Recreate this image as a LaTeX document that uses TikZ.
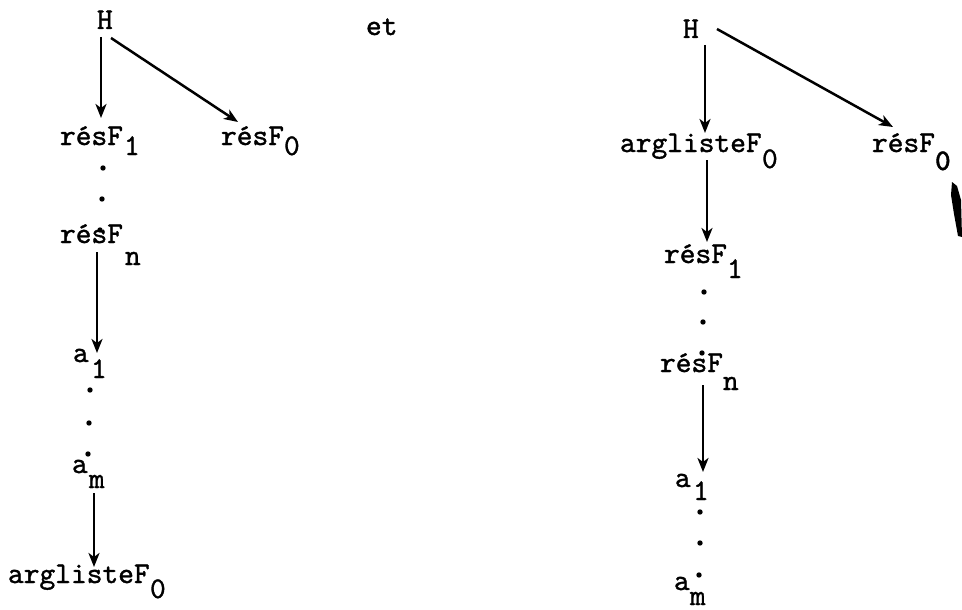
\documentclass[tikz,border=0pt]{standalone}
\usepackage{fontspec}
\newfontfamily\twfont[FakeBold=1.2]{lmmono10-regular.otf}
\newfontfamily\twbold[FakeBold=1.2]{lmmonolt10-bold.otf}
\usetikzlibrary{arrows.meta}
\begin{document}
\begin{tikzpicture}[x=1pt,y=-1pt,
  lbl/.style={anchor=base west,inner sep=0pt,outer sep=0pt,font=\fontsize{30}{33}\selectfont\twfont},
  dotnode/.style={circle,fill=black,inner sep=0pt,minimum size=5.4pt},
  arr/.style={line width=2.5pt,-{Stealth[length=14pt,width=11pt,inset=4pt]}}]
\useasboundingbox (0,0) rectangle (962,610);
% left tree
\node[lbl] (H) at (97,29) {H};
\node[lbl] (et) at (366,35) {et};
\node[lbl] (r1) at (60,145) {résF};
\node[lbl] (r1s) at (124,155) {1};
\node[lbl] (r0) at (221,145) {résF};
\node[lbl] (r0s) at (284,155) {0};
\node[dotnode] (d1) at (103,168) {};
\node[dotnode] (d2) at (102,199) {};
\node[dotnode] (d3) at (100,230) {};
\node[lbl] (rn) at (60,243) {résF};
\node[lbl] (rns) at (125,265) {n};
\node[lbl] (a1) at (73,362) {a};
\node[lbl] (a1s) at (91,378) {1};
\node[dotnode] (d4) at (90,390) {};
\node[dotnode] (d5) at (89,423) {};
\node[dotnode] (d6) at (88,454) {};
\node[lbl] (am) at (72,473) {a};
\node[lbl] (ams) at (89,488) {m};
\node[lbl] (arg) at (8,583) {arglisteF};
\node[lbl] (args) at (150,598) {0};
\draw[arr] ([shift={(4,8)}]H.base west) -- ([shift={(41,-27)}]r1.base west);
\draw[arr] ([shift={(14,9)}]H.base west) -- ([shift={(17,-23)}]r0.base west);
\draw[arr] ([shift={(37,9)}]rn.base west) -- ([shift={(24,-9)}]a1.base west);
\draw[arr] ([shift={(22,20)}]am.base west) -- ([shift={(86,-16)}]arg.base west);
% right tree
\node[lbl] (HR) at (683,38) {H};
\node[lbl] (argR) at (620,152) {arglisteF};
\node[lbl] (argRs) at (762,168) {0};
\node[lbl] (r0R) at (872,152) {résF};
\node[lbl] (r0Rs) at (935,170) {\twbold 0};
\node[lbl] (r1R) at (664,263) {résF};
\node[lbl] (r1Rs) at (727,278) {1};
\node[dotnode] (e1) at (704,292) {};
\node[dotnode] (e2) at (703,322) {};
\node[dotnode] (e3) at (702,353) {};
\node[lbl] (rnR) at (660,372) {résF};
\node[lbl] (rnRs) at (723,390) {n};
\node[lbl] (a1R) at (675,487) {a};
\node[lbl] (a1Rs) at (693,500) {1};
\node[dotnode] (e4) at (700,512) {};
\node[dotnode] (e5) at (700,543) {};
\node[dotnode] (e6) at (699,575) {};
\node[lbl] (amR) at (674,590) {a};
\node[lbl] (amRs) at (690,605) {m};
\draw[arr] ([shift={(22,7)}]HR.base west) -- ([shift={(85,-19)}]argR.base west);
\draw[arr] ([shift={(34,-9)}]HR.base west) -- ([shift={(21,-25)}]r0R.base west);
\draw[arr] ([shift={(87,8)}]argR.base west) -- ([shift={(43,-21)}]r1R.base west);
\draw[arr] ([shift={(43,13)}]rnR.base west) -- ([shift={(28,-15)}]a1R.base west);
% scan mark
\fill[black] (952,182) -- (957,186) -- (961,200) -- (962,237) -- (958,236) -- (954,214) -- (951,195) -- cycle;
\end{tikzpicture}
\end{document}
